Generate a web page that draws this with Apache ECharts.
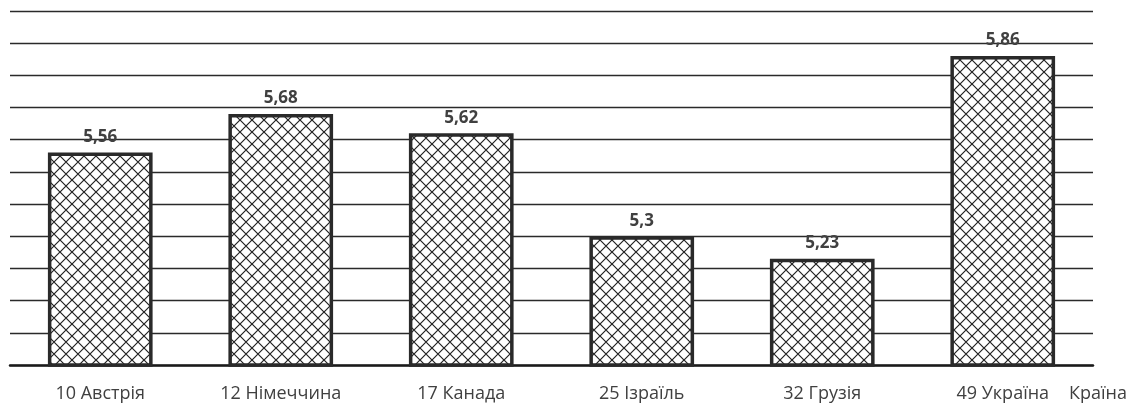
<!DOCTYPE html>
<html>
<head>
<meta charset="utf-8">
<script src="https://cdn.jsdelivr.net/npm/echarts@6/dist/echarts.min.js"></script>
<style>html,body{margin:0;padding:0;background:#fff;}#c{width:1136px;height:411px;}</style>
</head>
<body>
<div id="c"></div>
<script>
const categories = ['10 Австрія', '12 Німеччина', '17 Канада', '25 Ізраїль', '32 Грузія', '49 Україна'];
const values = [5.56, 5.68, 5.62, 5.3, 5.23, 5.86];
const axisName = 'Країна';

function hatch() {
  const s = 12;
  const c = document.createElement('canvas');
  c.width = s; c.height = s;
  const g = c.getContext('2d');
  g.fillStyle = '#fff';
  g.fillRect(0, 0, s, s);
  g.strokeStyle = '#222';
  g.lineWidth = 1.2;
  g.beginPath();
  g.moveTo(0, 0); g.lineTo(s, s);
  g.moveTo(s, 0); g.lineTo(0, s);
  g.stroke();
  return c;
}

const chart = echarts.init(document.getElementById('c'), null, {renderer: 'canvas'});
chart.setOption({
  animation: false,
  backgroundColor: '#fff',
  grid: {left: 10, right: 43, top: 11, bottom: 46, containLabel: false},
  xAxis: {
    type: 'category',
    data: categories,
    name: axisName,
    nameLocation: 'end',
    nameGap: -24,
    nameTextStyle: {color: '#404040', fontSize: 18, fontFamily: 'Open Sans', align: 'left', verticalAlign: 'top', padding: [20, 0, 0, 0]},
    axisLine: {lineStyle: {color: '#1a1a1a', width: 2.5}},
    axisTick: {show: false},
    axisLabel: {color: '#404040', fontSize: 18, fontFamily: 'Open Sans', margin: 20}
  },
  yAxis: {
    type: 'value',
    min: 4.9, max: 6.0, interval: 0.1,
    axisLabel: {show: false},
    axisLine: {show: false},
    axisTick: {show: false},
    splitLine: {lineStyle: {color: '#2a2a2a', width: 1.4}}
  },
  series: [{
    type: 'bar',
    data: values,
    barCategoryGap: '42%',
    itemStyle: {color: {image: hatch(), repeat: 'repeat'}, borderColor: '#2a2a2a', borderWidth: 3.5},
    label: {
      show: true, position: 'top', distance: 7,
      color: '#404040', fontSize: 17, fontWeight: 'bold', fontFamily: 'Open Sans',
      formatter: p => String(p.value).replace('.', ',')
    }
  }]
});
</script>
</body>
</html>
